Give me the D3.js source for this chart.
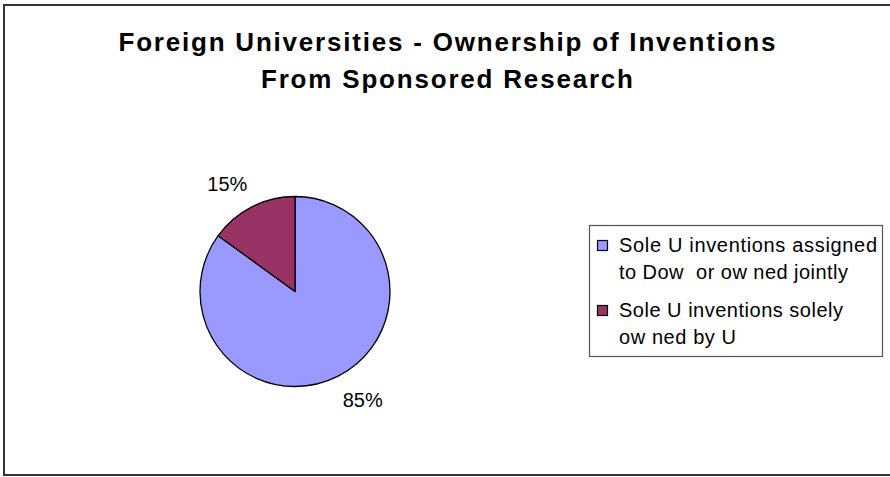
<!DOCTYPE html>
<html>
<head>
<meta charset="utf-8">
<script src="https://cdn.jsdelivr.net/npm/d3@7/dist/d3.min.js"></script>
<style>
  html, body { margin: 0; padding: 0; background: #fff; }
  svg { display: block; font-family: "Liberation Sans", Arial, sans-serif; }
</style>
</head>
<body>
<svg id="chart" width="890" height="477"></svg>
<script>
// Chart data
const titleLines = ["Foreign Universities - Ownership of Inventions", "From Sponsored Research"];
const categories = ["Sole U inventions assigned to Dow or owned jointly", "Sole U inventions solely owned by U"];
const legendLines = [["Sole U inventions assigned", "to Dow  or ow ned jointly"], ["Sole U inventions solely", "ow ned by U"]];
const values = [85, 15];
const percentLabels = ["85%", "15%"];
const colors = ["#9999ff", "#993366"];

// Rendered widths of the title and legend lines
const titleWidths = [657, 372];
const legendWidths = [[258, 229], [224, 117]];

const svg = d3.select("#chart");

// Outer chart frame
svg.append("rect")
  .attr("x", 4).attr("y", 5).attr("width", 900).attr("height", 470)
  .attr("fill", "#fff").attr("stroke", "#333").attr("stroke-width", 2);

// Title
svg.append("g").selectAll("text").data(titleLines).join("text")
  .attr("x", 447).attr("y", (d, i) => 51 + i * 37)
  .attr("text-anchor", "middle")
  .attr("font-size", 26).attr("font-weight", "bold").attr("fill", "#000")
  .attr("textLength", (d, i) => titleWidths[i]).attr("lengthAdjust", "spacing")
  .text(d => d);

// Pie
const cx = 295, cy = 291.5, r = 95;
const pie = d3.pie().sort(null).value(d => d)(values);
const arc = d3.arc().innerRadius(0).outerRadius(r);
const g = svg.append("g").attr("transform", `translate(${cx},${cy})`);
g.selectAll("path").data(pie).join("path")
  .attr("d", arc)
  .attr("fill", (d, i) => colors[i])
  .attr("stroke", "#000").attr("stroke-width", 1.3).attr("stroke-linejoin", "round");

// Percent labels placed outside each slice, nudged away horizontally
const labelArc = d3.arc().innerRadius(r + 32).outerRadius(r + 32);
g.selectAll("text.pct").data(pie).join("text")
  .attr("class", "pct")
  .attr("transform", d => {
    const [x, y] = labelArc.centroid(d);
    return `translate(${x + Math.sign(x) * 10},${y - Math.sign(y) * 5})`;
  })
  .attr("text-anchor", "middle").attr("dy", "0.36em")
  .attr("font-size", 20).attr("fill", "#000")
  .text((d, i) => percentLabels[i]);

// Legend
const lg = svg.append("g");
lg.append("rect")
  .attr("x", 589.5).attr("y", 225.5).attr("width", 293).attr("height", 131)
  .attr("fill", "#fff").attr("stroke", "#555").attr("stroke-width", 1.2);
const items = lg.selectAll("g.item").data(categories).join("g")
  .attr("class", "item")
  .attr("transform", (d, i) => `translate(0,${i * 65})`);
items.append("rect")
  .attr("x", 597.5).attr("y", 240.5).attr("width", 10).attr("height", 10)
  .attr("fill", (d, i) => colors[i]).attr("stroke", "#000").attr("stroke-width", 1.2);
items.each(function (d, i) {
  d3.select(this).selectAll("text").data(legendLines[i]).join("text")
    .attr("x", 619).attr("y", (t, j) => 251.5 + j * 27)
    .attr("font-size", 20).attr("fill", "#000")
    .attr("xml:space", "preserve").style("white-space", "pre")
    .attr("textLength", (t, j) => legendWidths[i][j]).attr("lengthAdjust", "spacing")
    .text(t => t);
});
</script>
</body>
</html>
